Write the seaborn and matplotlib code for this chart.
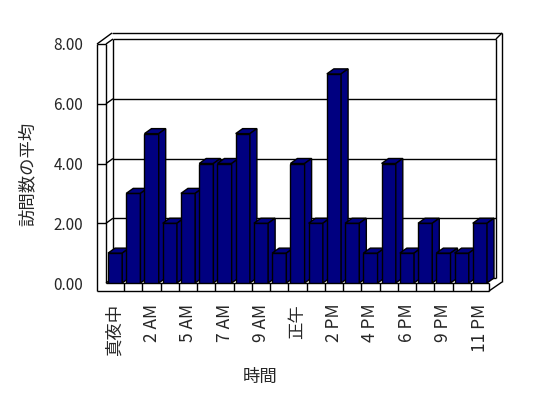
import numpy as np
import pandas as pd
import seaborn as sns
import matplotlib
matplotlib.use('Agg')
import matplotlib.pyplot as plt
from matplotlib.transforms import offset_copy
from matplotlib.patches import Polygon

# datos
hours = ['真夜中', '1 AM', '2 AM', '4 AM', '5 AM', '6 AM', '7 AM', '8 AM', '9 AM', '11 AM', '正午',
         '1 PM', '2 PM', '3 PM', '4 PM', '5 PM', '6 PM', '8 PM', '9 PM', '10 PM', '11 PM']
visits = [1, 3, 5, 2, 3, 4, 4, 5, 2, 1, 4, 2, 7, 2, 1, 4, 1, 2, 1, 1, 2]
yticks = [0, 2, 4, 6, 8]
x_title = '時間'
y_title = '訪問数の平均'

df = pd.DataFrame({'hour': hours, 'visits': visits})

sns.set_style('white')
plt.rcParams['font.family'] = ['Noto Sans CJK JP', 'DejaVu Sans']

DPI = 100
fig = plt.figure(figsize=(5.48, 3.98), dpi=DPI)
ax = fig.add_axes([106 / 548, (398 - 283) / 398, 383 / 548, 239 / 398])

NAVY = '#000080'
sns.barplot(data=df, x='hour', y='visits', color=NAVY, edgecolor='black',
            linewidth=1, width=0.78, saturation=1, ax=ax)

n = len(hours)
xl, xr = -0.5, n - 0.5
ax.set_xlim(xl, xr)
ax.set_ylim(0, 8)
for s in ax.spines.values():
    s.set_visible(False)

def seg(x0, y0, d0, x1, y1, d1, z=1):
    # linea entre dos puntos (datos + desplazamiento en pixeles)
    t0 = ax.transData.transform((x0, y0)) + np.array(d0)
    t1 = ax.transData.transform((x1, y1)) + np.array(d1)
    ax.plot([t0[0], t1[0]], [t0[1], t1[1]], color='black', lw=1,
            transform=None, zorder=z, clip_on=False, solid_capstyle='butt')

D = (7, 5)       # profundidad
OUT = (13, 11)   # borde exterior de la pared trasera
T = 9            # grosor de las paredes

# pared trasera
seg(xl, 8, D, xr, 8, D)
seg(xl, 8, D, xl, 0, D)
seg(xr, 8, D, xr, 0, D)
seg(xl, 0, D, xr, 0, D)
for v in yticks[1:-1]:
    seg(xl, v, D, xr, v, D)
# pared lateral izquierda
for v in yticks:
    seg(xl, v, (0, 0), xl, v, D)
# borde superior exterior
seg(xl, 8, (-T, 0), xl, 8, (6, 11))
seg(xl, 8, (6, 11), xr, 8, OUT)
seg(xr, 8, D, xr, 8, OUT)
seg(xr, 8, OUT, xr, 0, (13, 1))
# frente de las paredes (panel izquierdo + piso)
seg(xl, 8, (-T, 0), xl, 8, (0, 0))
seg(xl, 8, (-T, 0), xl, 0, (-T, -8))
seg(xl, 8, (0, 0), xl, 0, (0, 0))
for v in yticks[1:-1]:
    seg(xl, v, (-T, 0), xl, v, (0, 0))
seg(xl, 0, (0, 0), xr, 0, (0, 0))
seg(xl, 0, (-T, -8), xr, 0, (0, -8))
seg(xr, 0, (0, 0), xr, 0, (0, -8))
seg(xr, 0, (0, -8), xr, 0, (13, 1))
for k in range(n - 1):
    seg(k + 0.5, 0, (0, 0), k + 0.5, 0, (0, -8))

# caras 3D de las barras
for i, p in enumerate(ax.patches):
    z = 3 + i * 0.01
    p.set_zorder(z)
    x0, w, h = p.get_x(), p.get_width(), p.get_height()
    t = ax.transData
    a = t.transform((x0, h)); b = t.transform((x0 + w, h)); c = t.transform((x0 + w, 0))
    dx, dy = D
    top = Polygon([a, b, b + (dx, dy), a + (dx, dy)], closed=True, transform=None,
                  facecolor=NAVY, edgecolor='black', lw=1, zorder=z + 0.001, clip_on=False)
    side = Polygon([b, c, c + (dx, dy), b + (dx, dy)], closed=True, transform=None,
                   facecolor=NAVY, edgecolor='black', lw=1, zorder=z + 0.002, clip_on=False)
    ax.add_patch(top)
    ax.add_patch(side)

ax.set_yticks(yticks)
ax.set_yticklabels([f'{v:.2f}' for v in yticks])
ax.set_xticks(range(0, n, 2))
ax.set_xticklabels(hours[::2], rotation=90, va='top', ha='center')
ax.tick_params(axis='y', length=0, pad=16.5, labelsize=11)
ax.tick_params(axis='x', length=0, pad=15, labelsize=12.5)

ax.set_xlabel(x_title, fontsize=12.5)
ax.set_ylabel(y_title, fontsize=12.5)
ax.xaxis.set_label_coords(0.402, -0.356)
ax.yaxis.set_label_coords(-0.18, 0.456)

fig.savefig('out.png', dpi=DPI, facecolor='white')
